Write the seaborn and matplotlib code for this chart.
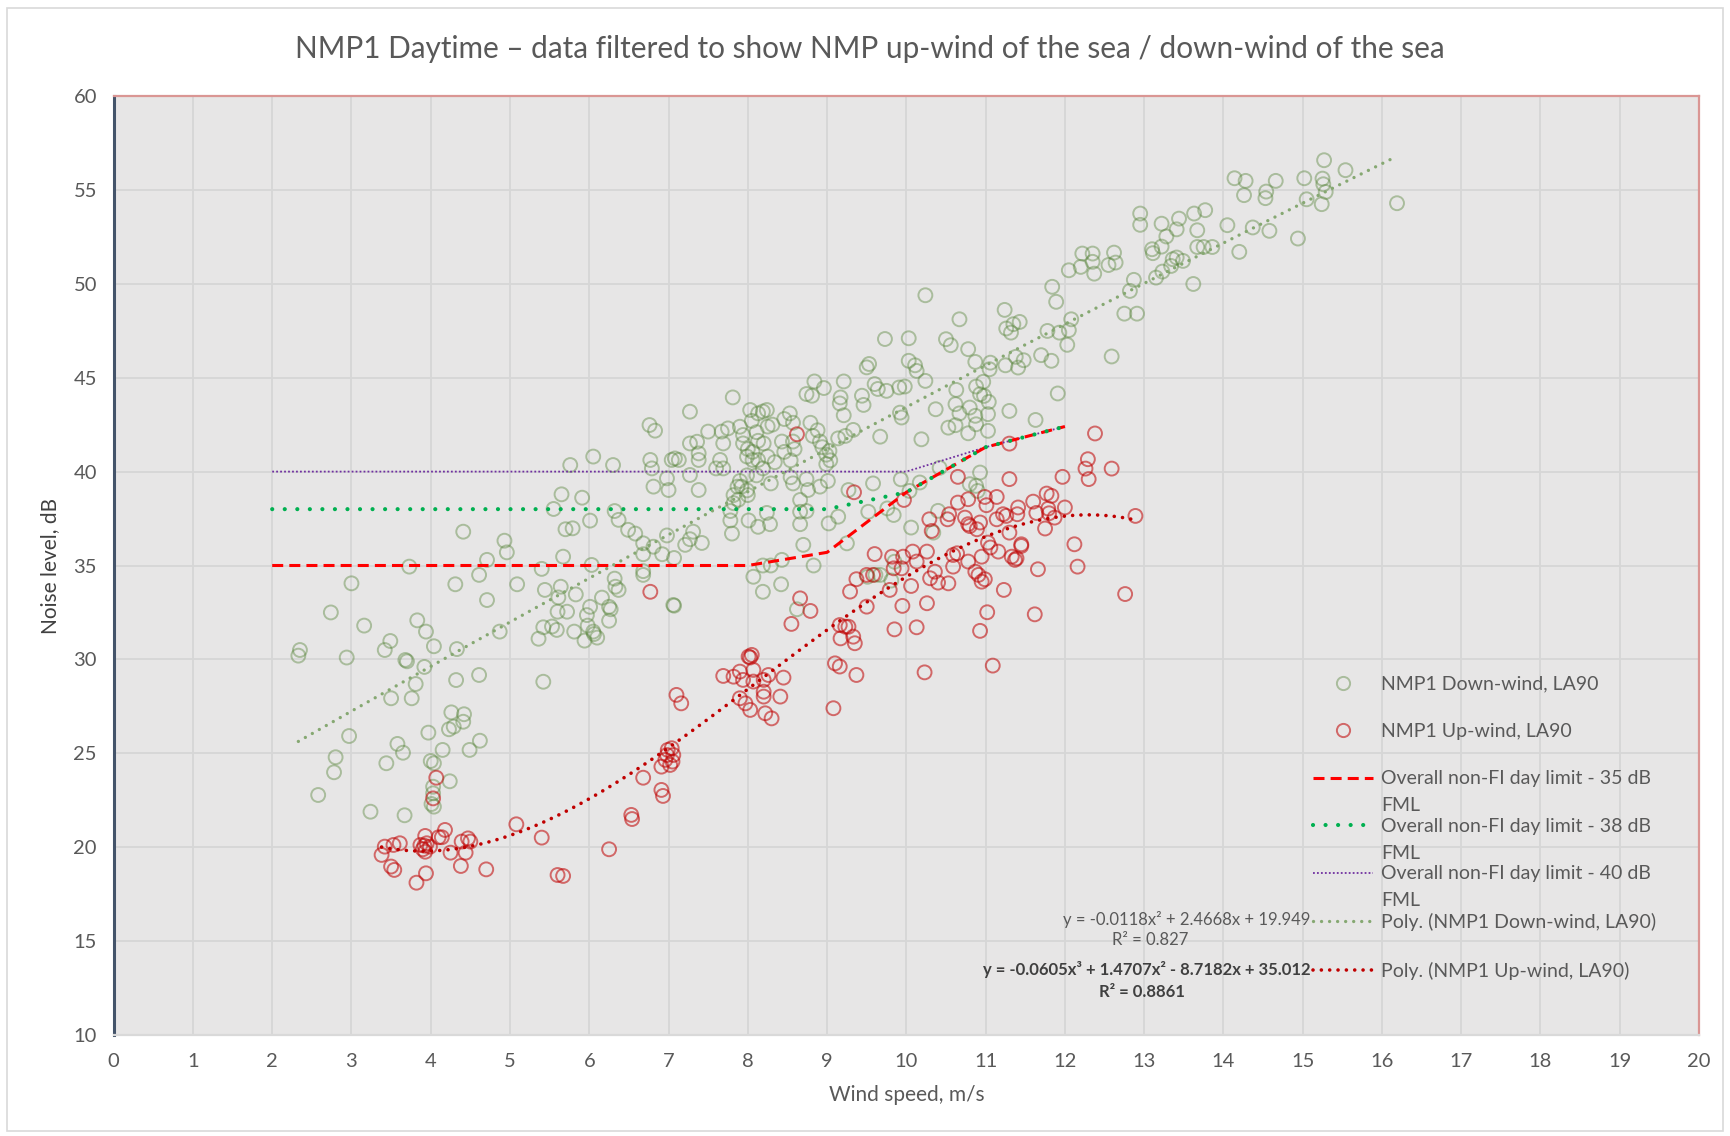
import numpy as np
import matplotlib
matplotlib.use('Agg')
import matplotlib.pyplot as plt
import seaborn as sns
from matplotlib.lines import Line2D
from matplotlib.patches import Rectangle

sns.set_style('white')
plt.rcParams['font.family'] = ['Lato', 'DejaVu Sans']

# (wind speed m/s, LA90 dB)
down_wind = [
    (3.0, 34.05), (4.31, 34.0), (5.09, 34.0), (2.74, 32.5), (3.16, 31.8), (3.83, 32.08), (3.94, 31.48),
    (3.49, 30.98), (3.42, 30.5), (4.04, 30.7), (4.33, 30.55), (2.35, 30.5), (2.33, 30.2), (2.94, 30.1),
    (3.68, 29.97), (3.70, 29.9), (3.92, 29.6), (4.61, 29.17), (4.32, 28.9), (3.81, 28.69), (3.50, 27.93),
    (3.76, 27.93), (4.26, 27.18), (4.42, 27.08), (4.41, 26.68), (4.29, 26.42), (4.23, 26.28), (3.97, 26.1),
    (2.97, 25.92), (4.62, 25.67), (3.58, 25.5), (3.65, 25.03), (4.15, 25.18), (4.49, 25.18), (2.80, 24.79),
    (2.78, 23.99), (3.44, 24.47), (4.0, 24.59), (4.04, 24.47), (4.24, 23.51), (4.03, 23.22), (4.03, 22.87),
    (4.01, 22.3), (4.04, 22.16), (2.58, 22.78), (3.24, 21.89), (3.67, 21.7),
    (5.44, 33.7), (5.64, 33.87), (5.61, 33.3), (5.83, 33.46), (6.33, 33.87), (6.37, 33.7), (6.16, 33.29),
    (6.01, 32.8), (5.72, 32.54), (5.60, 32.54), (6.25, 32.8), (6.27, 32.67), (5.97, 32.36), (6.25, 32.06),
    (5.98, 31.8), (5.42, 31.71), (5.53, 31.75), (5.59, 31.57), (5.81, 31.48), (6.05, 31.48), (6.06, 31.35),
    (6.10, 31.16), (5.94, 31.0), (5.36, 31.1), (4.87, 31.48), (4.71, 33.16), (7.07, 32.86), (5.42, 28.81),
    (6.05, 40.8), (5.76, 40.35), (6.30, 40.35), (5.65, 38.79), (5.91, 38.61), (5.55, 38.01), (6.32, 37.9),
    (6.37, 37.43), (6.01, 37.39), (5.70, 36.93), (5.79, 36.98), (4.41, 36.8), (4.93, 36.32), (4.96, 35.7),
    (4.71, 35.3), (5.67, 35.47), (3.73, 34.94), (4.61, 34.5), (5.40, 34.82), (6.03, 35.03), (6.32, 34.3),
    (6.76, 42.48), (6.83, 42.18), (7.27, 43.19), (9.16, 43.63), (9.21, 43.0), (9.46, 43.55), (9.67, 41.86),
    (9.33, 42.22), (9.23, 41.9), (9.14, 41.77), (6.77, 40.62), (6.79, 40.17), (7.04, 40.62), (7.08, 40.7),
    (7.13, 40.62), (7.27, 41.5), (7.36, 41.59), (7.38, 40.97), (7.38, 40.62), (7.27, 39.82), (6.98, 39.64),
    (6.81, 39.2), (7.0, 39.02), (7.38, 39.02), (7.50, 42.13), (7.67, 42.13), (7.75, 42.3), (7.69, 41.5),
    (7.65, 40.62), (7.69, 40.17), (7.6, 40.17), (7.90, 42.39), (7.94, 41.95), (8.03, 43.28), (8.13, 43.1),
    (8.19, 43.2), (8.24, 43.28), (8.05, 42.7), (7.94, 41.5), (8.0, 41.2), (8.06, 41.05), (8.13, 41.64),
    (8.20, 41.5), (8.11, 42.1), (8.25, 42.4), (8.31, 42.5), (7.99, 40.8), (8.06, 40.62), (8.13, 40.62),
    (8.19, 40.17), (8.11, 39.8), (7.99, 39.8), (7.90, 39.5), (7.92, 39.2), (7.99, 39.0), (7.87, 39.2),
    (7.82, 38.75), (7.88, 38.5), (8.0, 38.75), (7.82, 38.32), (7.78, 37.9), (7.78, 37.4), (7.80, 36.7),
    (8.13, 37.06), (8.01, 37.4), (8.24, 37.8), (8.28, 37.2), (8.53, 43.1), (8.46, 42.8), (8.57, 42.6),
    (8.43, 41.6), (8.57, 41.6), (8.46, 41.05), (8.59, 41.2), (8.54, 40.6), (8.25, 40.8), (8.34, 40.5),
    (8.29, 39.37), (8.54, 39.7), (8.79, 42.6), (8.88, 42.2), (8.82, 41.9), (8.91, 41.6), (8.94, 41.3),
    (9.03, 41.1), (8.99, 40.9), (8.99, 40.4), (9.01, 39.5), (8.91, 39.2), (9.04, 40.6), (8.74, 39.6),
    (8.74, 37.9), (8.66, 37.2), (8.70, 36.1), (8.43, 35.3), (8.07, 34.4), (8.19, 35.0), (8.29, 35.0),
    (8.42, 34.0), (8.19, 33.6), (8.83, 35.0), (6.49, 36.9), (6.58, 36.7), (6.68, 36.18), (6.68, 35.6),
    (6.81, 36.0), (6.92, 35.6), (7.07, 35.4), (6.98, 36.6), (7.21, 36.1), (7.27, 36.4), (7.42, 36.2),
    (7.31, 36.8), (6.68, 34.7), (6.68, 34.5), (7.06, 32.9), (8.62, 32.67), (9.51, 34.4), (9.61, 34.5),
    (9.67, 34.5), (9.85, 35.2), (9.81, 34.2), (9.25, 36.18), (9.14, 37.6), (9.02, 37.24), (8.76, 39.02),
    (8.66, 37.86), (8.57, 39.37), (8.66, 38.49), (9.58, 39.37), (9.93, 39.59), (9.84, 37.69), (9.76, 38.04),
    (9.52, 37.86), (9.27, 39.02),
    (9.73, 47.06), (9.53, 45.73), (9.50, 45.55), (8.84, 44.8), (9.21, 44.8), (8.96, 44.45), (8.74, 44.13),
    (9.6, 44.66), (9.64, 44.4), (9.75, 44.3), (9.91, 44.48), (9.44, 44.04), (9.17, 43.95), (8.81, 44.04),
    (7.81, 43.95),
    (10.24, 49.39), (14.14, 55.62), (14.28, 55.48), (14.66, 55.48), (15.02, 55.62), (15.25, 55.6),
    (15.27, 56.58), (15.54, 56.05), (15.26, 55.3), (15.29, 54.89), (15.24, 54.24), (15.05, 54.5),
    (14.53, 54.56), (14.54, 54.91), (14.26, 54.72), (14.58, 52.82), (14.94, 52.41), (14.37, 53.0),
    (16.19, 54.29), (14.05, 53.12), (14.2, 51.7), (13.77, 53.92), (13.63, 53.74), (13.67, 52.85),
    (13.44, 53.47), (13.41, 52.9), (13.22, 53.2), (13.28, 52.52), (13.22, 51.98), (12.95, 53.74),
    (12.95, 53.14), (13.1, 51.84), (13.11, 51.63), (13.36, 51.31), (13.41, 51.4), (13.49, 51.22),
    (13.34, 50.95), (13.67, 51.96), (13.75, 51.96), (13.86, 51.96), (13.62, 49.99), (13.23, 50.65),
    (13.15, 50.33), (12.87, 50.21), (12.82, 49.62), (12.75, 48.41), (12.91, 48.41), (12.59, 46.13),
    (12.22, 51.61), (12.35, 51.61), (12.35, 51.17), (12.37, 50.54), (12.2, 50.9), (12.05, 50.72),
    (12.62, 51.66), (12.64, 51.13), (12.55, 51.0), (11.84, 49.84), (11.89, 49.04), (12.08, 48.11),
    (11.78, 47.49), (11.93, 47.4), (12.05, 47.53), (12.03, 46.75), (11.91, 44.16), (11.83, 45.9),
    (11.7, 46.2), (11.38, 46.11), (11.48, 45.93), (11.41, 45.54), (11.24, 48.61), (11.26, 47.62),
    (11.35, 47.85), (11.43, 47.97), (11.32, 47.4), (11.05, 45.45), (11.06, 45.8), (11.25, 45.66),
    (10.67, 48.11), (10.5, 47.05), (10.56, 46.73), (10.78, 46.52), (10.87, 45.84), (10.03, 47.1),
    (10.03, 45.9), (10.11, 45.66), (10.13, 45.36), (10.24, 44.83), (9.98, 44.53), (10.37, 43.32),
    (10.63, 44.35), (10.62, 43.59), (10.67, 43.1), (10.8, 43.41), (10.88, 44.53), (10.97, 44.78),
    (10.93, 44.12), (10.98, 44.03), (11.04, 43.71), (10.87, 42.97), (10.88, 42.52), (11.03, 43.06),
    (11.03, 42.17), (10.78, 42.04), (10.53, 42.34), (10.62, 42.47), (10.19, 41.72), (11.3, 43.23),
    (11.63, 42.75), (10.42, 40.2), (10.8, 39.33), (10.93, 39.95), (10.88, 39.24), (10.9, 38.97),
    (10.17, 39.42), (10.04, 38.97), (10.4, 37.91), (10.06, 37.02), (10.34, 36.75), (9.92, 43.14),
    (9.94, 42.88),
]

up_wind = [
    (4.07, 23.7), (4.03, 22.6), (6.91, 23.05), (6.93, 22.73), (6.53, 21.72), (6.54, 21.5), (6.25, 19.89),
    (5.6, 18.52), (5.67, 18.47), (5.4, 20.51), (5.08, 21.22), (4.7, 18.82), (4.38, 19.0), (4.44, 19.71),
    (4.25, 19.71), (4.47, 20.47), (4.5, 20.3), (4.39, 20.3), (4.18, 20.92), (4.1, 20.53), (4.14, 20.53),
    (3.93, 20.6), (3.87, 20.12), (3.92, 20.08), (3.95, 20.21), (3.99, 20.03), (3.9, 19.89), (3.93, 19.76),
    (3.94, 18.61), (3.82, 18.11), (3.42, 20.03), (3.53, 20.12), (3.61, 20.21), (3.38, 19.59), (3.5, 18.97),
    (3.54, 18.79), (6.99, 25.18), (7.04, 25.27), (6.98, 24.91), (7.06, 24.91), (6.96, 24.65), (7.05, 24.56),
    (6.91, 24.29), (7.02, 24.38), (6.68, 23.7), (7.1, 28.11), (7.16, 27.66), (6.77, 33.6),
    (8.62, 41.99), (9.34, 38.9), (9.97, 38.49),
    (10.99, 34.27), (10.95, 34.14), (10.91, 34.5), (10.87, 34.67), (10.78, 35.21), (10.95, 35.47),
    (10.59, 34.94), (10.59, 35.56), (10.64, 35.65), (10.53, 34.05), (10.4, 34.09), (10.3, 34.32),
    (10.36, 34.67), (10.26, 35.74), (10.13, 35.21), (10.08, 35.74), (9.96, 35.47), (9.94, 34.85),
    (9.84, 34.85), (9.82, 35.47), (9.79, 33.7), (10.06, 33.91), (9.6, 35.61), (9.58, 34.5), (9.5, 34.5),
    (9.37, 34.27), (9.29, 33.61), (9.95, 32.85), (10.26, 32.99), (9.85, 31.6), (10.13, 31.71),
    (10.23, 29.31), (9.5, 32.81), (9.08, 27.4), (9.16, 31.83), (9.23, 31.74), (9.27, 31.74), (9.17, 31.12),
    (9.33, 31.21), (9.35, 30.86), (9.1, 29.79), (9.16, 29.62), (9.37, 29.17), (8.66, 33.25), (8.79, 32.58),
    (8.55, 31.89), (8.01, 30.15), (8.05, 30.24), (8.03, 30.1), (7.69, 29.12), (7.82, 29.08), (7.9, 29.35),
    (8.07, 29.44), (7.94, 28.91), (8.07, 28.82), (8.2, 28.91), (8.26, 29.17), (8.45, 29.03), (7.9, 27.93),
    (7.97, 27.66), (8.03, 27.31), (8.2, 28.02), (8.2, 28.28), (8.22, 27.13), (8.3, 26.86), (8.41, 28.02),
    (11.16, 35.74), (11.33, 35.47), (11.37, 35.3), (11.39, 35.38), (11.66, 34.8), (12.16, 34.94),
    (11.62, 32.4), (11.23, 33.7), (11.02, 32.51), (10.93, 31.52), (11.09, 29.67), (12.76, 33.48),
    (12.38, 42.03), (12.29, 40.66), (12.26, 40.16), (12.3, 39.6), (12.59, 40.16), (11.97, 39.72),
    (11.3, 41.49), (11.3, 39.6), (10.65, 39.72), (10.29, 37.46), (10.32, 36.84), (10.54, 37.73),
    (10.52, 37.46), (10.65, 38.35), (10.78, 38.53), (10.74, 37.55), (10.78, 37.2), (10.8, 37.1),
    (10.93, 37.29), (10.99, 38.65), (11.01, 38.21), (11.14, 38.65), (10.89, 36.93), (11.22, 37.73),
    (11.41, 38.09), (11.14, 37.46), (11.26, 37.64), (11.4, 37.73), (11.6, 38.4), (11.77, 38.83),
    (11.83, 38.71), (11.79, 38.03), (11.8, 37.78), (11.64, 37.8), (11.87, 37.55), (12.0, 38.09),
    (11.75, 36.97), (11.3, 36.75), (11.45, 36.13), (11.45, 36.04), (11.03, 36.22), (11.06, 35.96),
    (12.12, 36.13), (12.89, 37.64),
]

# FML limit curves
fml_x = [2, 3, 4, 5, 6, 7, 8, 9, 10, 11, 12]
fml_35 = [35, 35, 35, 35, 35, 35, 35, 35.7, 38.9, 41.3, 42.4]
fml_38 = [38, 38, 38, 38, 38, 38, 38, 38, 38.9, 41.3, 42.4]
fml_40 = [40, 40, 40, 40, 40, 40, 40, 40, 40, 41.3, 42.4]

# trendline coefficients as printed on the chart
down_coef = [-0.0118, 2.4668, 19.949]
up_coef = [-0.0605, 1.4707, -8.7182, 35.012]

lbl_down = 'NMP1 Down-wind, LA90'
lbl_up = 'NMP1 Up-wind, LA90'
lbl_35 = 'Overall non-FI day limit - 35 dB'
lbl_38 = 'Overall non-FI day limit - 38 dB'
lbl_40 = 'Overall non-FI day limit - 40 dB'
lbl_pd = 'Poly. (NMP1 Down-wind, LA90)'
lbl_pu = 'Poly. (NMP1 Up-wind, LA90)'

GREEN = (0.33, 0.51, 0.21, 0.42)
RED = (0.75, 0.0, 0.0, 0.55)
TXT = '#595959'

fig = plt.figure(figsize=(17.3, 11.36), dpi=100)
fig.patches.append(Rectangle((0.004, 0.004), 0.992, 0.989, transform=fig.transFigure,
                             fill=False, ec='#D9D9D9', lw=1.2))
ax = fig.add_axes([0.0657, 0.0889, 0.9164, 0.8266])
ax.set_facecolor('#E7E6E6')

dx, dy = zip(*down_wind)
ux, uy = zip(*up_wind)

for xs, ys, col in [(dx, dy, GREEN), (ux, uy, RED)]:
    sns.scatterplot(x=list(xs), y=list(ys), ax=ax, marker='o', s=100, legend=False, zorder=3)
    coll = ax.collections[-1]
    coll.set_facecolor('none')
    coll.set_edgecolor(col)
    coll.set_linewidth(1.4)

sty_35 = dict(color='#FF0000', lw=2.2, linestyle=(0, (3.6, 2.0)))
sty_38 = dict(color='#00B050', lw=3.0, linestyle=(0, (0.01, 3.0)), dash_capstyle='round')
sty_40 = dict(color='#7030A0', lw=1.3, linestyle=(0, (1, 1.2)))
sty_pd = dict(color='#86A872', lw=2.4, linestyle=(0, (0.01, 2.4)), dash_capstyle='round')
sty_pu = dict(color='#C00000', lw=2.6, linestyle=(0, (0.01, 2.3)), dash_capstyle='round')

sns.lineplot(x=fml_x, y=fml_40, ax=ax, zorder=4, **sty_40)
sns.lineplot(x=fml_x, y=fml_35, ax=ax, zorder=4, **sty_35)
sns.lineplot(x=fml_x, y=fml_38, ax=ax, zorder=4, **sty_38)

xd = np.linspace(min(dx), max(dx), 300)
xu = np.linspace(min(ux), max(ux), 300)
ax.plot(xd, np.polyval(down_coef, xd), zorder=4, **sty_pd)
ax.plot(xu, np.polyval(up_coef, xu), zorder=4, **sty_pu)

ax.set_xlim(0, 20)
ax.set_ylim(10, 60)
ax.set_xticks(range(0, 21))
ax.set_yticks(range(10, 61, 5))
ax.grid(True, color='#D6D6D6', lw=1.3)
ax.set_axisbelow(True)
ax.tick_params(length=0, labelsize=14.5, labelcolor=TXT)
ax.tick_params(axis='x', pad=13)
ax.tick_params(axis='y', pad=12)
ax.spines['left'].set_color('#44546A')
ax.spines['left'].set_linewidth(2.2)
for s in ['top', 'right']:
    ax.spines[s].set_color('#DA9694')
    ax.spines[s].set_linewidth(1.6)
ax.spines['bottom'].set_color('#D9D9D9')
ax.spines['bottom'].set_linewidth(1.6)

ax.set_xlabel('Wind speed, m/s', fontsize=15, color=TXT, labelpad=11)
ax.set_ylabel('Noise level, dB', fontsize=15, color='#404040', labelpad=10)
fig.text(0.503, 0.957, 'NMP1 Daytime \u2013 data filtered to show NMP up-wind of the sea / down-wind of the sea',
         ha='center', va='center', fontsize=21.4, color=TXT)

handles = [
    Line2D([], [], ls='none', marker='o', ms=9.5, mfc='none', mec=GREEN, mew=1.4),
    Line2D([], [], ls='none', marker='o', ms=9.5, mfc='none', mec=RED, mew=1.4),
    Line2D([], [], **sty_35),
    Line2D([], [], **sty_38),
    Line2D([], [], **sty_40),
    Line2D([], [], **sty_pd),
    Line2D([], [], **sty_pu),
]
labels = [lbl_down, lbl_up, lbl_35, lbl_38, lbl_40, lbl_pd, lbl_pu]
leg = ax.legend(handles, labels, loc='upper left', bbox_to_anchor=(0.7565, 0.383), frameon=False,
                fontsize=14, labelcolor=TXT, handlelength=3.1, handletextpad=0.4,
                labelspacing=1.57, borderpad=0, borderaxespad=0)
leg.set_zorder(6)
for t in leg.get_texts()[2:5]:
    ax.annotate('FML', xy=(0, 0), xycoords=t, xytext=(0, -10), textcoords='offset pixels',
                ha='left', va='top', fontsize=14, color=TXT, zorder=7)

ax.text(15.1, 16.17, 'y = -0.0118x\u00b2 + 2.4668x + 19.949', ha='right', va='center',
        fontsize=12, color=TXT, zorder=6)
ax.text(13.08, 15.05, 'R\u00b2 = 0.827', ha='center', va='center', fontsize=12, color=TXT, zorder=6)
ax.text(15.1, 13.47, 'y = -0.0605x\u00b3 + 1.4707x\u00b2 - 8.7182x + 35.012', ha='right', va='center',
        fontsize=12, color='#404040', fontweight='bold', zorder=6)
ax.text(12.97, 12.29, 'R\u00b2 = 0.8861', ha='center', va='center', fontsize=12, color='#404040',
        fontweight='bold', zorder=6)

fig.canvas.draw()
fig.savefig('out.png', dpi=100, facecolor='white')
